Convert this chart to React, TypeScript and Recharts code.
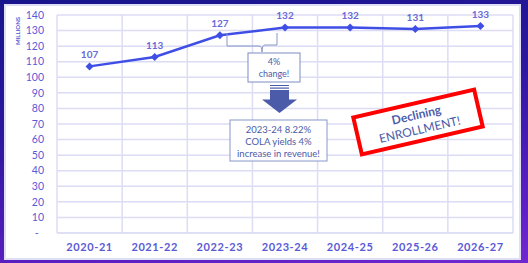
import { CartesianGrid, LabelList, Line, LineChart, XAxis, YAxis } from 'recharts'

const years = ['2020-21', '2021-22', '2022-23', '2023-24', '2024-25', '2025-26', '2026-27']
const enrollment = [107, 113, 127, 132, 132, 131, 133]
const yTicks = [0, 10, 20, 30, 40, 50, 60, 70, 80, 90, 100, 110, 120, 130, 140]

const data = years.map((year, i) => ({ year, value: enrollment[i] }))

const W = 528
const H = 263
const PLOT_W = W - 57 - 15
const HALF_BAND = PLOT_W / years.length / 2
const FONT = 'Lato, "Open Sans", sans-serif'
const LABEL = '#5a5ad6'
const GRID = '#dcdcf4'
const NOTE = '#4b5ba9'

function Diamond(props: any) {
  const { cx, cy, index } = props
  if (cx == null || cy == null) return <g key={index} />
  return <path key={index} d={`M${cx},${cy - 4} L${cx + 4},${cy} L${cx},${cy + 4} L${cx - 4},${cy} Z`} fill="#3f4fe6" />
}

function Notes() {
  return (
    <svg width={W} height={H} style={{ position: 'absolute', left: 0, top: 0, pointerEvents: 'none' }}>
      <text
        transform="translate(20,31) rotate(-90)"
        textAnchor="middle"
        fontFamily={FONT}
        fontSize={6}
        fontWeight="bold"
        fill={LABEL}
      >
        MILLIONS
      </text>

      {/* brace */}
      <path d="M227 33 V46 H259 Q262 46 262 52 Q262 45 265 45 H277 V33" fill="none" stroke="#8896c8" strokeWidth={1} />

      <rect x={248} y={53} width={52} height={29} fill="#fff" stroke="#7d8cc4" strokeWidth={1} />
      <text x={274} y={65} textAnchor="middle" fontFamily={FONT} fontSize={9} fill={NOTE}>4%</text>
      <text x={274} y={77} textAnchor="middle" fontFamily={FONT} fontSize={9} fill={NOTE}>change!</text>

      {/* striped arrow */}
      <rect x={270} y={85} width={19} height={1} fill={NOTE} />
      <rect x={270} y={87.5} width={19} height={1.2} fill={NOTE} />
      <rect x={270} y={90} width={19} height={10} fill={NOTE} />
      <path d="M262 99.5 L297 99.5 L279.5 113 Z" fill={NOTE} />

      <rect x={230} y={120} width={97} height={41} fill="#fff" stroke="#8896c8" strokeWidth={1} />
      <text x={278.5} y={133} textAnchor="middle" fontFamily={FONT} fontSize={9.5} fill={NOTE}>2023-24 8.22%</text>
      <text x={278.5} y={145} textAnchor="middle" fontFamily={FONT} fontSize={9.5} fill={NOTE}>COLA yields 4%</text>
      <text x={278.5} y={157} textAnchor="middle" fontFamily={FONT} fontSize={9.5} fill={NOTE}>increase in revenue!</text>

      <g transform="translate(418,122) rotate(-13)">
        <rect x={-62} y={-19} width={124} height={38} fill="#fff" stroke="#ff0000" strokeWidth={4} />
        <text x={0} y={-3} textAnchor="middle" fontFamily={FONT} fontSize={12} fontWeight="bold" fill={NOTE}>
          Declining
        </text>
        <text x={0} y={12} textAnchor="middle" fontFamily={FONT} fontSize={12} fill={NOTE}>
          ENROLLMENT!
        </text>
      </g>
    </svg>
  )
}

export default function App() {
  return (
    <div
      style={{
        position: 'fixed',
        left: 0,
        top: 0,
        width: W,
        height: H,
        background: 'linear-gradient(172deg, #17158c 0%, #2c189e 40%, #5a1fc0 80%, #7028d0 100%)',
      }}
    >
      <div
        style={{
          position: 'absolute',
          left: 4,
          top: 4,
          width: 513,
          height: 252,
          background: '#fff',
          border: '2px solid #dedef4',
        }}
      />
      <div style={{ position: 'absolute', left: 0, top: 0 }}>
        <LineChart width={W} height={H} data={data} margin={{ top: 15, right: 15, left: 0, bottom: 0 }}>
          <CartesianGrid
            stroke={GRID}
            strokeWidth={1.5}
            verticalCoordinatesGenerator={({ offset }: any) =>
              years.concat(['']).map((_, i) => offset.left + (i * offset.width) / years.length)
            }
          />
          <XAxis
            dataKey="year"
            height={30}
            padding={{ left: HALF_BAND, right: HALF_BAND }}
            axisLine={{ stroke: GRID, strokeWidth: 1.5 }}
            tickLine={false}
            tickMargin={4}
            tick={{ fill: LABEL, fontSize: 11, fontFamily: FONT, fontWeight: 'bold', letterSpacing: 0.6 }}
          />
          <YAxis
            width={57}
            domain={[0, 140]}
            ticks={yTicks}
            interval={0}
            axisLine={false}
            tickLine={false}
            tickMargin={7}
            tickFormatter={(v: number) => (v === 0 ? '-\u00a0\u00a0' : String(v))}
            tick={{ fill: LABEL, fontSize: 10.5, fontFamily: FONT }}
          />
          <Line
            type="linear"
            dataKey="value"
            stroke="#3f4fe6"
            strokeWidth={2.5}
            dot={Diamond}
            activeDot={false}
            isAnimationActive={false}
          >
            <LabelList
              dataKey="value"
              position="top"
              offset={8}
              fill="#6a6ad8"
              fontSize={10}
              fontWeight="bold"
              fontFamily={FONT}
            />
          </Line>
        </LineChart>
      </div>
      <Notes />
    </div>
  )
}
